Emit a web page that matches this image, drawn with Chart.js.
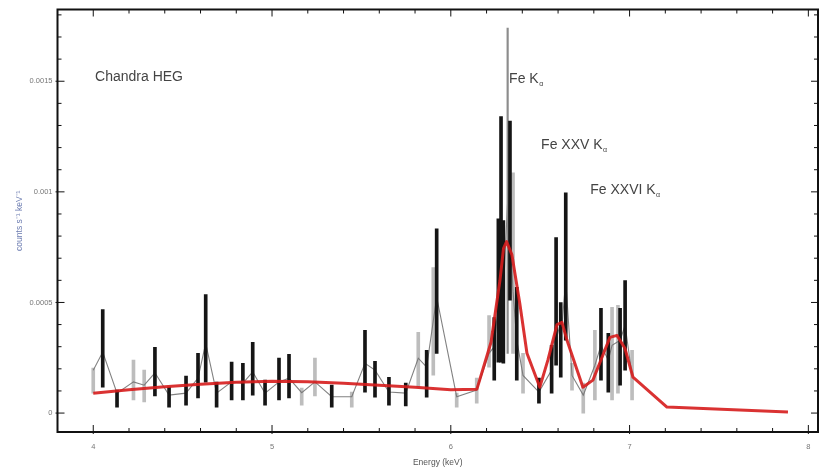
<!DOCTYPE html>
<html>
<head>
<meta charset="utf-8">
<script src="https://cdn.jsdelivr.net/npm/chart.js@4.4.1/dist/chart.umd.min.js"></script>
<style>
  html, body { margin: 0; padding: 0; background: #fff; }
  #wrap { width: 836px; height: 472px; }
</style>
</head>
<body>
<div id="wrap"><canvas id="spec"></canvas></div>
<script>
// Chandra HEG spectrum around the Fe K complex

// best-fit model (red)
const modelE = [4.0, 4.2, 4.4, 4.6, 4.8, 5.0, 5.2, 5.4, 5.6, 5.8, 6.0, 6.146, 6.225, 6.275, 6.295, 6.312, 6.342,
  6.386, 6.426, 6.498, 6.543, 6.594, 6.622, 6.650, 6.739, 6.795, 6.846, 6.890, 6.930, 6.974, 7.019, 7.209, 7.886];
const modelFlux = [0.0000901, 0.0001059, 0.0001194, 0.0001306, 0.0001396, 0.0001441, 0.0001419, 0.0001351,
  0.0001261, 0.0001171, 0.0001059, 0.0001081, 0.000320, 0.000600, 0.000745, 0.000775, 0.000715, 0.000495, 0.000270,
  0.000117, 0.000239, 0.000400, 0.000410, 0.000329, 0.000117, 0.000149, 0.000252, 0.000342, 0.000351, 0.000293,
  0.000162, 0.000027, 0.0000045];

// data bins, dark error bars
const blackE = [4.053, 4.133, 4.345, 4.424, 4.519, 4.586, 4.629, 4.690, 4.774, 4.837, 4.892, 4.961, 5.039, 5.095,
  5.334, 5.520, 5.576, 5.654, 5.748, 5.865, 5.921, 6.243, 6.266, 6.281, 6.294, 6.331, 6.369, 6.493, 6.564, 6.589,
  6.615, 6.643, 6.840, 6.881, 6.947, 6.975];
const blackLo = [0.000117, 0.000027, 0.000077, 0.000027, 0.000036, 0.000068, 0.000140, 0.000027, 0.000059, 0.000059,
  0.000081, 0.000036, 0.000059, 0.000068, 0.000027, 0.000095, 0.000072, 0.000036, 0.000032, 0.000072, 0.000270,
  0.000149, 0.000230, 0.000230, 0.000225, 0.000510, 0.000149, 0.000045, 0.000090, 0.000216, 0.000162, 0.000329,
  0.000149, 0.000095, 0.000126, 0.000194];
const blackHi = [0.000468, 0.000104, 0.000297, 0.000117, 0.000167, 0.000270, 0.000536, 0.000140, 0.000230, 0.000225,
  0.000320, 0.000149, 0.000248, 0.000266, 0.000126, 0.000374, 0.000234, 0.000162, 0.000135, 0.000284, 0.000833,
  0.000432, 0.000878, 0.001340, 0.000870, 0.001320, 0.000568, 0.000158, 0.000306, 0.000793, 0.000500, 0.000996,
  0.000473, 0.000360, 0.000473, 0.000599];

// data bins, light error bars
const grayE = [4.0, 4.225, 4.285, 5.166, 5.240, 5.446, 5.818, 5.902, 6.033, 6.145, 6.214, 6.348, 6.404, 6.678,
  6.741, 6.806, 6.902, 6.935, 7.014];
const grayLo = [0.000090, 0.000059, 0.000050, 0.000036, 0.000077, 0.000027, 0.000117, 0.000171, 0.000027, 0.000045,
  0.000207, 0.000270, 0.000090, 0.000104, 0.000000, 0.000059, 0.000059, 0.000090, 0.000059];
const grayHi = [0.000203, 0.000239, 0.000194, 0.000113, 0.000248, 0.000095, 0.000365, 0.000658, 0.000090, 0.000158,
  0.000441, 0.001086, 0.000270, 0.000225, 0.000135, 0.000374, 0.000478, 0.000487, 0.000284];

// the single tall thin bar at the Fe K alpha line
const thinE = [6.318];
const thinLo = [0.000270];
const thinHi = [0.001740];

// thin line joining the data values
const lineE = [4.0, 4.053, 4.133, 4.225, 4.285, 4.345, 4.424, 4.519, 4.586, 4.629, 4.690, 4.774, 4.837, 4.892,
  4.961, 5.039, 5.095, 5.166, 5.240, 5.334, 5.446, 5.520, 5.576, 5.654, 5.748, 5.818, 5.865, 5.921, 6.033, 6.145,
  6.214, 6.243, 6.266, 6.281, 6.294, 6.318, 6.331, 6.348, 6.369, 6.404, 6.493, 6.564, 6.589, 6.615, 6.643, 6.678,
  6.741, 6.806, 6.840, 6.881, 6.902, 6.947, 6.975, 7.014];
const lineFlux = [0.000194, 0.000276, 0.000090, 0.000141, 0.000126, 0.000182, 0.000081, 0.000090, 0.000158,
  0.000315, 0.000090, 0.000141, 0.000135, 0.000186, 0.000090, 0.000141, 0.000158, 0.000092, 0.000141, 0.000074,
  0.000074, 0.000225, 0.000194, 0.000095, 0.000090, 0.000248, 0.000208, 0.000524, 0.000074, 0.000104, 0.000270,
  0.000300, 0.000500, 0.000780, 0.000550, 0.000960, 0.000820, 0.000550, 0.000330, 0.000170, 0.000095, 0.000194,
  0.000420, 0.000330, 0.000600, 0.000170, 0.000081, 0.000216, 0.000306, 0.000239, 0.000306, 0.000329, 0.000396,
  0.000170];

// tick labels
const xTicks = [4, 5, 6, 7, 8];
const yTicks = [0, 0.0005, 0.001, 0.0015];

// line annotations (anchored in data units)
const noteText = ['Chandra HEG', 'Fe K', 'Fe XXV K', 'Fe XXVI K'];
const noteSub = ['', 'α', 'α', 'α'];
const noteE = [4.01, 6.326, 6.505, 6.78];
const noteFlux = [0.0015, 0.00149, 0.001194, 0.000991];

const pts = (e, v) => e.map((x, i) => ({ x: x, y: v[i] }));
const bars = (e, lo, hi) => e.map((x, i) => ({ x: x, y: [lo[i], hi[i]] }));

const FONT = '"Liberation Sans", Arial, Helvetica, sans-serif';

// frame with inward major/minor ticks on all four sides
const framePlugin = {
  id: 'frame',
  afterDraw(chart) {
    const { ctx, chartArea: a, scales: { x, y } } = chart;
    ctx.save();
    ctx.strokeStyle = '#111';
    ctx.lineWidth = 1;
    ctx.beginPath();
    for (let i = 0; i <= 25; i++) {
      const v = 3.8 + i * 0.2;
      const px = x.getPixelForValue(v);
      if (px < a.left + 1 || px > a.right - 1) continue;
      const major = Math.abs(v - Math.round(v)) < 1e-6;
      const len = major ? 7 : 4;
      ctx.moveTo(px, a.bottom + (major ? 2 : 0)); ctx.lineTo(px, a.bottom - len);
      ctx.moveTo(px, a.top); ctx.lineTo(px, a.top + len);
    }
    for (let i = 0; i <= 18; i++) {
      const v = i * 0.0001;
      const py = y.getPixelForValue(v);
      if (py < a.top + 1 || py > a.bottom - 1) continue;
      const major = i % 5 === 0;
      const len = major ? 7 : 4;
      ctx.moveTo(a.left - (major ? 2 : 0), py); ctx.lineTo(a.left + len, py);
      ctx.moveTo(a.right, py); ctx.lineTo(a.right - len, py);
    }
    ctx.stroke();
    ctx.lineWidth = 2;
    ctx.strokeRect(a.left, a.top, a.right - a.left, a.bottom - a.top);
    ctx.restore();
  }
};

const notesPlugin = {
  id: 'notes',
  afterDatasetsDraw(chart) {
    const { ctx, scales: { x, y } } = chart;
    ctx.save();
    ctx.fillStyle = '#444';
    ctx.textBaseline = 'alphabetic';
    noteText.forEach((t, i) => {
      const px = x.getPixelForValue(noteE[i]);
      const py = y.getPixelForValue(noteFlux[i]);
      ctx.font = '14px ' + FONT;
      ctx.fillText(t, px, py);
      if (noteSub[i]) {
        const w = ctx.measureText(t).width;
        ctx.font = '7px ' + FONT;
        ctx.fillText(noteSub[i], px + w + 0.5, py + 3);
      }
    });
    ctx.restore();
  }
};

new Chart(document.getElementById('spec'), {
  type: 'bar',
  data: {
    datasets: [
      {
        type: 'line', data: pts(modelE, modelFlux),
        borderColor: 'rgba(214,28,28,0.9)', borderWidth: 3,
        pointRadius: 0, tension: 0, borderJoinStyle: 'round', order: 0
      },
      {
        data: bars(blackE, blackLo, blackHi),
        backgroundColor: '#151515', barThickness: 3, grouped: false, order: 1
      },
      {
        data: bars(thinE, thinLo, thinHi),
        backgroundColor: '#8c8c8c', barThickness: 1.5, grouped: false, order: 2
      },
      {
        type: 'line', data: pts(lineE, lineFlux),
        borderColor: 'rgba(115,115,115,0.9)', borderWidth: 1.1,
        pointRadius: 0, tension: 0, order: 3
      },
      {
        data: bars(grayE, grayLo, grayHi),
        backgroundColor: '#bdbdbd', barThickness: 3, grouped: false, order: 4
      }
    ]
  },
  options: {
    responsive: true,
    maintainAspectRatio: false,
    animation: false,
    layout: { padding: { top: 8, right: 18, left: 0, bottom: 0 } },
    plugins: { legend: { display: false }, tooltip: { enabled: false } },
    scales: {
      x: {
        type: 'linear', min: 3.8, max: 8.054, offset: false,
        grid: { display: false, drawTicks: false },
        border: { display: false },
        afterBuildTicks: s => { s.ticks = xTicks.map(v => ({ value: v })); },
        afterFit: s => { s.height = 40; },
        ticks: { color: '#777', font: { family: FONT, size: 7.5 }, padding: 10, maxRotation: 0 },
        title: {
          display: true, text: 'Energy (keV)', color: '#555',
          font: { family: FONT, size: 8.5 }, padding: { top: 0, bottom: 4 }
        }
      },
      y: {
        type: 'linear', min: -0.0000856, max: 0.0018243,
        grid: { display: false, drawTicks: false },
        border: { display: false },
        afterBuildTicks: s => { s.ticks = yTicks.map(v => ({ value: v })); },
        afterFit: s => { s.width = 57.5; },
        ticks: {
          color: '#777', font: { family: FONT, size: 7.5 }, padding: 5,
          callback: v => v === 0 ? '0' : String(+v.toFixed(4))
        },
        title: {
          display: true, text: 'counts s⁻¹ keV⁻¹', color: '#6b7bb0',
          font: { family: FONT, size: 8.5 }, padding: { top: 15, bottom: 0 }
        }
      }
    }
  },
  plugins: [framePlugin, notesPlugin]
});
</script>
</body>
</html>
